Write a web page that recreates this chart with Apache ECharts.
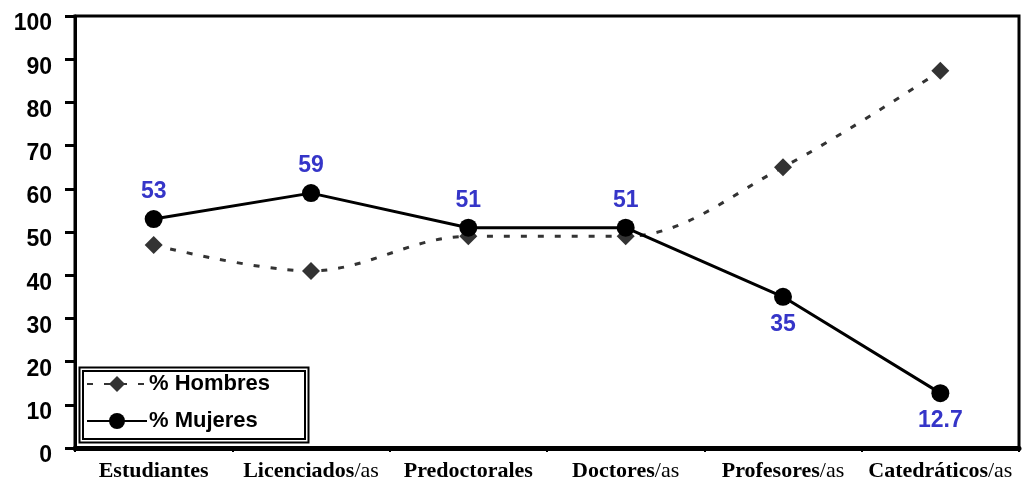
<!DOCTYPE html>
<html><head><meta charset="utf-8">
<script src="https://cdn.jsdelivr.net/npm/echarts@6/dist/echarts.min.js"></script>
<style>html,body{margin:0;padding:0;background:#fff}#c{width:1036px;height:491px}</style>
</head><body><div id="c"></div>
<script>
var categories = ['Estudiantes', 'Licenciados/as', 'Predoctorales', 'Doctores/as', 'Profesores/as', 'Catedráticos/as'];
var hombres = [47, 41, 49, 49, 65, 87.3];
var mujeres = [53, 59, 51, 51, 35, 12.7];
var labelPos = ['top', 'top', 'top', 'top', 'bottom', 'bottom'];
var yTicks = [0, 10, 20, 30, 40, 50, 60, 70, 80, 90, 100];

var chart = echarts.init(document.getElementById('c'));
chart.setOption({
  animation: false,
  backgroundColor: '#fff',
  grid: { left: 75, right: 17, top: 16, bottom: 43, show: true, borderColor: '#000', borderWidth: 3, backgroundColor: 'transparent' },
  legend: {
    left: 86, top: 373, orient: 'vertical', itemGap: 15, itemWidth: 60, itemHeight: 20,
    padding: 0,
    borderWidth: 0,
    textStyle: { fontFamily: 'Liberation Sans, Arial', fontWeight: 'bold', fontSize: 22, color: '#000', padding: [0, 0, 0, -3] },
    data: ['% Hombres', '% Mujeres']
  },
  graphic: [
    { type: 'rect', shape: { x: 79.5, y: 367.5, width: 229, height: 75 }, style: { fill: '#fff', stroke: '#000', lineWidth: 2 }, z: 0, zlevel: 0 },
    { type: 'rect', shape: { x: 83, y: 371, width: 222, height: 68 }, style: { fill: 'none', stroke: '#000', lineWidth: 2 }, z: 1 }
  ],
  xAxis: {
    type: 'category', data: categories, boundaryGap: true,
    axisLine: { lineStyle: { color: '#000', width: 5 } },
    axisTick: { show: true, length: 4, lineStyle: { color: '#000', width: 2 } },
    axisLabel: {
      interval: 0, margin: 12,
      formatter: function (v) {
        var i = v.indexOf('/');
        if (i < 0) return '{b|' + v + '}';
        return '{b|' + v.slice(0, i) + '}{r|' + v.slice(i) + '}';
      },
      rich: {
        b: { fontFamily: 'Liberation Serif, Times New Roman', fontWeight: 'bold', fontSize: 22, color: '#000' },
        r: { fontFamily: 'Liberation Serif, Times New Roman', fontWeight: 'normal', fontSize: 22, color: '#000' }
      }
    }
  },
  yAxis: {
    type: 'value', min: 0, max: 100, interval: 10,
    axisLine: { show: true, lineStyle: { color: '#000', width: 3 } },
    axisTick: { show: true, length: 10, lineStyle: { color: '#000', width: 3 } },
    splitLine: { show: false },
    axisLabel: {
      margin: 23,
      formatter: function (v) { return yTicks.indexOf(v) >= 0 ? '{a|' + v + '}' : ''; },
      rich: { a: { fontFamily: 'Liberation Sans, Arial', fontWeight: 'bold', fontSize: 23, color: '#000', padding: [16, 0, 0, 0] } }
    }
  },
  series: [
    {
      name: '% Hombres', type: 'line', data: hombres, smooth: 0.35,
      symbol: 'diamond', symbolSize: 18,
      itemStyle: { color: '#333' },
      lineStyle: { color: '#333', width: 3, type: [6, 11] },
      z: 2
    },
    {
      name: '% Mujeres', type: 'line',
      data: mujeres.map(function (v, i) { return { value: v, label: { position: labelPos[i] } }; }),
      symbol: 'circle', symbolSize: 18,
      itemStyle: { color: '#000' },
      lineStyle: { color: '#000', width: 3 },
      label: { show: true, distance: 7, fontFamily: 'Liberation Sans, Arial', fontWeight: 'bold', fontSize: 23, color: '#3535c8' },
      z: 3
    }
  ]
});
</script></body></html>
